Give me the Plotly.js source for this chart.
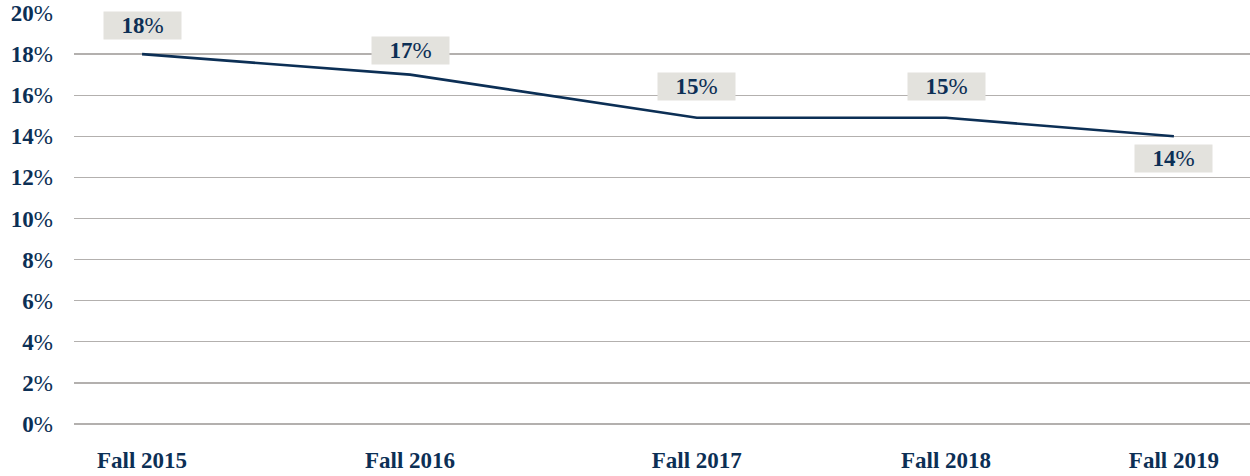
<!DOCTYPE html>
<html>
<head>
<meta charset="utf-8">
<script src="https://cdn.plot.ly/plotly-3.0.1.min.js"></script>
<style>html,body{margin:0;padding:0;background:#fff;}#chart{width:1250px;height:476px;}</style>
</head>
<body>
<div id="chart"></div>
<script>
// Data
const categories = ["Fall 2015", "Fall 2016", "Fall 2017", "Fall 2018", "Fall 2019"];
const xPositions = [0, 1, 2.07, 3.0, 3.85]; // uneven spacing of the terms along the axis
const rates = [18.0, 17.0, 14.9, 14.9, 14.0];
const labelShifts = [29, 24, 31, 31, -22];
const yTicks = [0, 2, 4, 6, 8, 10, 12, 14, 16, 18, 20];
const yTickText = yTicks.map(v => v + "%");

const navy = "#0c2f55";
const font = "Liberation Serif, DejaVu Serif, serif";

const annotations = rates.map((v, i) => ({
  x: xPositions[i], y: v, xref: "x", yref: "y",
  text: "<b>" + Math.round(v) + "</b>%",
  showarrow: false,
  yshift: labelShifts[i],
  bgcolor: "#e3e2dd",
  width: 75, height: 25,
  font: {family: font, size: 23, color: navy},
  align: "center", valign: "middle"
}));

const trace = {
  x: xPositions, y: rates, type: "scatter", mode: "lines",
  line: {color: navy, width: 2.6},
  hoverinfo: "skip"
};

const layout = {
  width: 1250, height: 476,
  margin: {l: 74, r: 0, t: 13, b: 52},
  paper_bgcolor: "#fff", plot_bgcolor: "#fff",
  showlegend: false,
  xaxis: {
    range: [-0.254, 4.134],
    tickvals: xPositions, ticktext: categories.map(c => "<b>" + c + "</b>"),
    showgrid: false, zeroline: false, showline: false, ticks: "",
    ticklabelstandoff: 20,
    tickfont: {family: font, size: 23, color: navy},
    fixedrange: true
  },
  yaxis: {
    range: [0, 20],
    tickvals: yTicks, ticktext: yTickText.map(t => "<b>" + t.replace("%", "") + "</b>%"),
    showgrid: true, gridcolor: "#b3b0ae", gridwidth: 1.3,
    zeroline: true, zerolinecolor: "#b3b0ae", zerolinewidth: 1.3,
    showline: false, ticks: "", ticklen: 0,
    ticklabelstandoff: 20,
    tickfont: {family: font, size: 23, color: navy},
    fixedrange: true
  },
  annotations: annotations
};

Plotly.newPlot("chart", [trace], layout, {displayModeBar: false, staticPlot: true});
</script>
</body>
</html>
